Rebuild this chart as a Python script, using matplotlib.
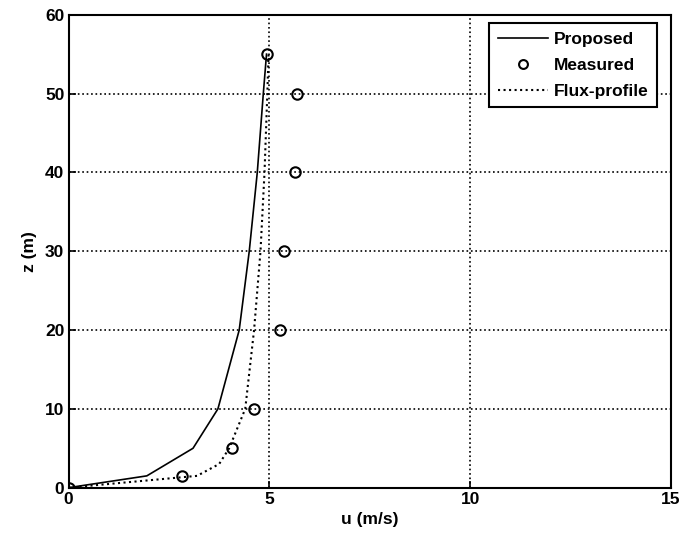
import matplotlib
matplotlib.use('Agg')
import matplotlib.pyplot as plt

plt.rcParams['font.family'] = ['Liberation Sans', 'DejaVu Sans']
plt.rcParams['font.size'] = 12.5
plt.rcParams['font.weight'] = 'bold'
plt.rcParams['axes.labelweight'] = 'bold'

# measured wind profile
z_meas = [0, 1.5, 5, 10, 20, 30, 40, 50, 55]
u_meas = [0, 2.82, 4.07, 4.63, 5.26, 5.37, 5.63, 5.69, 4.93]

# proposed model
z_prop = [0, 1.5, 5, 10, 20, 30, 40, 50, 55]
u_prop = [0, 1.95, 3.1, 3.72, 4.25, 4.5, 4.7, 4.85, 4.93]

# flux-profile model
z_flux = [0, 1.5, 3, 5, 10, 20, 30, 40, 50, 55]
u_flux = [0, 3.2, 3.75, 4.0, 4.4, 4.62, 4.78, 4.88, 4.95, 4.98]

fig = plt.figure(figsize=(6.81, 5.39), dpi=100)
ax = fig.add_axes([0.1006, 0.0952, 0.8847, 0.8775])

ax.plot(u_prop, z_prop, color='black', linestyle='-', linewidth=1.2, label='Proposed')
ax.plot(u_meas, z_meas, linestyle='none', marker='o', markersize=7.5,
        markerfacecolor='none', markeredgecolor='black', markeredgewidth=1.5, label='Measured')
ax.plot(u_flux, z_flux, color='black', linestyle=':', linewidth=1.5, label='Flux-profile')

ax.set_xlim(0, 15)
ax.set_ylim(0, 60)
ax.set_xticks([0, 5, 10, 15])
ax.set_yticks([0, 10, 20, 30, 40, 50, 60])
ax.grid(True, color='black', linestyle=':', linewidth=1.2)
ax.tick_params(direction='in', length=5, width=1.2, top=False, right=False, pad=3)
for s in ax.spines.values():
    s.set_linewidth(1.5)

ax.set_xlabel('u (m/s)', labelpad=4)
ax.set_ylabel('z (m)', labelpad=6)

leg = ax.legend(loc='upper right', bbox_to_anchor=(0.9768, 0.9825), borderaxespad=0,
                fancybox=False, framealpha=1, edgecolor='black',
                handlelength=2.9, labelspacing=0.62, borderpad=0.5,
                handletextpad=0.3, markerscale=0.85)
leg.get_frame().set_linewidth(1.5)

fig.savefig('out.png', dpi=100)
